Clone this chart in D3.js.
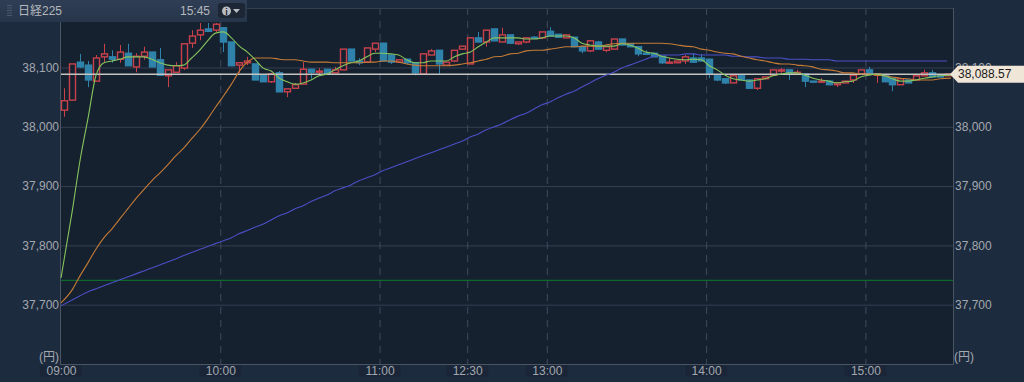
<!DOCTYPE html>
<html lang="ja">
<head>
  <meta charset="utf-8" />
  <title>日経225</title>
  <script src="https://cdn.jsdelivr.net/npm/d3@7/dist/d3.min.js"></script>
  <style>
    html, body { margin: 0; padding: 0; background: #1d2b3f; overflow: hidden; }
    svg { display: block; font-family: "Liberation Sans", "Noto Sans CJK JP", sans-serif; }
    .axis text { fill: #a3a8ae; font-size: 12px; }
    .axis path { display: none; }
    .grid line { stroke: #343f50; }
    .tgrid line { stroke: #3f4a5a; stroke-dasharray: 7 6; }
  </style>
</head>
<body>
<script>
// 3 minute candles, 09:00 to 15:30 (lunch removed)
var opens = [
  38028,38045,38109,38104,38077,38118,38118,38114,38124,38101,
  38119,38126,38113,38086,38092,38099,38141,38155,38165,38163,
  38167,38143,38104,38108,38106,38087,38076,38091,38059,38065,
  38072,38097,38092,38097,38091,38096,38131,38111,38109,38131,
  38141,38121,38109,38114,38108,38089,38121,38129,38104,38111,
  38131,38106,38150,38143,38165,38143,38155,38140,38143,38151,
  38150,38161,38156,38150,38151,38135,38128,38143,38129,38131,
  38148,38140,38135,38124,38124,38119,38108,38108,38111,38116,
  38116,38114,38086,38081,38074,38086,38079,38065,38081,38087,
  38094,38096,38089,38089,38077,38076,38077,38071,38074,38079,
  38089,38096,38087,38087,38082,38071,38079,38079,38086,38091,38087,38086];
var closes = [
  38044,38106,38101,38079,38116,38123,38114,38126,38103,38119,
  38126,38101,38087,38096,38103,38140,38153,38163,38161,38173,
  38143,38103,38108,38111,38079,38076,38089,38059,38064,38071,
  38097,38092,38094,38089,38096,38131,38111,38108,38133,38141,
  38111,38109,38113,38108,38091,38123,38128,38106,38109,38129,
  38136,38150,38143,38163,38145,38155,38141,38143,38150,38150,
  38160,38153,38151,38155,38135,38128,38145,38131,38135,38148,
  38138,38135,38123,38123,38118,38108,38109,38111,38118,38109,
  38111,38089,38079,38074,38086,38079,38065,38081,38084,38096,
  38096,38089,38092,38077,38076,38077,38071,38074,38077,38087,
  38096,38089,38089,38076,38071,38081,38074,38086,38091,38084,38084,38089];
var highs = [
  38065,38106,38123,38111,38121,38140,38129,38138,38140,38124,
  38135,38126,38133,38096,38109,38140,38163,38175,38175,38175,
  38167,38143,38108,38118,38106,38087,38091,38094,38064,38074,
  38109,38097,38099,38097,38101,38131,38131,38116,38133,38141,
  38141,38121,38114,38114,38108,38123,38131,38129,38109,38129,
  38136,38150,38160,38163,38165,38167,38155,38143,38151,38153,
  38160,38168,38156,38155,38151,38135,38146,38145,38135,38148,
  38148,38140,38135,38129,38124,38119,38116,38111,38121,38124,
  38123,38114,38086,38081,38086,38086,38079,38081,38084,38096,
  38099,38096,38096,38089,38077,38082,38077,38074,38077,38087,
  38096,38101,38089,38087,38082,38081,38079,38086,38096,38096,38087,38089];
var lows = [
  38017,38045,38099,38067,38077,38109,38108,38108,38103,38092,
  38113,38101,38087,38067,38092,38096,38133,38146,38161,38160,
  38126,38103,38091,38104,38079,38076,38074,38059,38050,38065,
  38072,38081,38087,38089,38091,38096,38111,38104,38108,38126,
  38111,38106,38108,38106,38087,38089,38121,38089,38104,38109,
  38131,38106,38143,38135,38145,38143,38141,38138,38141,38150,
  38148,38153,38151,38150,38135,38124,38126,38131,38126,38131,
  38138,38135,38119,38121,38118,38106,38108,38108,38106,38108,
  38111,38082,38077,38072,38074,38079,38065,38062,38081,38087,
  38091,38079,38089,38067,38076,38074,38071,38067,38074,38074,
  38089,38089,38074,38076,38060,38071,38074,38079,38086,38084,38084,38086];

var maShort = [
  37745,37857,37944,38015,38087,38108,38111,38114,38118,38118,
  38118,38114,38108,38104,38103,38104,38116,38129,38145,38158,
  38160,38150,38136,38126,38113,38099,38094,38082,38076,38072,
  38074,38079,38086,38089,38096,38103,38108,38111,38118,38124,
  38124,38123,38121,38113,38108,38108,38111,38111,38111,38118,
  38123,38126,38135,38143,38150,38150,38150,38150,38148,38148,
  38150,38153,38153,38153,38150,38141,38138,38136,38136,38136,
  38140,38138,38133,38126,38124,38119,38116,38114,38113,38114,
  38113,38103,38096,38087,38081,38079,38077,38079,38081,38086,
  38089,38091,38091,38087,38082,38079,38077,38074,38076,38077,
  38084,38087,38089,38086,38081,38077,38077,38079,38082,38084,38086,38087];
var maMid = [
  37703,37725,37749,37771,37794,37813,37828,37845,37862,37879,
  37894,37909,37922,37936,37951,37964,37980,37995,38013,38033,
  38052,38072,38094,38109,38116,38116,38116,38114,38113,38113,
  38111,38109,38109,38109,38108,38108,38108,38108,38109,38109,
  38111,38111,38109,38106,38104,38103,38103,38103,38103,38104,
  38106,38108,38111,38114,38118,38119,38123,38124,38128,38129,
  38129,38131,38133,38135,38135,38136,38136,38136,38138,38140,
  38141,38141,38141,38141,38141,38141,38140,38138,38136,38135,
  38131,38129,38126,38124,38123,38119,38116,38113,38111,38108,
  38106,38106,38104,38103,38101,38097,38096,38094,38091,38091,
  38089,38089,38087,38086,38084,38082,38081,38079,38079,38079,38081,38082];
var maLong = [
  37698,37708,37715,37722,37727,37732,37737,37742,37747,37752,
  37757,37762,37767,37772,37777,37783,37788,37793,37798,37803,
  37808,37813,37820,37825,37831,37836,37843,37850,37855,37862,
  37867,37874,37880,37885,37892,37897,37902,37909,37914,37919,
  37926,37931,37936,37941,37946,37951,37956,37961,37966,37971,
  37976,37983,37988,37995,38000,38005,38012,38018,38023,38030,
  38037,38042,38049,38055,38060,38067,38074,38081,38087,38092,
  38099,38104,38109,38114,38119,38121,38121,38121,38123,38123,
  38121,38121,38121,38121,38119,38119,38118,38118,38116,38116,
  38116,38114,38114,38114,38113,38113,38113,38111,38111,38111,
  38111,38111,38111,38111,38111,38111,38111,38111,38111,38111,38111,38111];

var prevClose = 37741;
var lastPrice = 38088.57;
var yTicks = [37700, 37800, 37900, 38000, 38100];
var timeSlots = [0, 20, 40, 51, 61, 81, 101];
var timeLabels = ["09:00", "10:00", "11:00", "12:30", "13:00", "14:00", "15:00"];

var w = 1024, h = 382;
var pad = {left: 61, right: 71, top: 8, bottom: 18};
var indexes = d3.range(closes.length);

var x = d3.scaleLinear().domain([0, closes.length]).range([pad.left, w - pad.right]);
var y = d3.scaleLinear().domain([37700, 38100]).range([304.7, 67.5]);
var mid = function(i) { return Math.round(x(i + 0.4)) + 0.5; };

var svg = d3.select("body").append("svg").attr("width", w).attr("height", h);

svg.append("rect").attr("x", pad.left).attr("y", pad.top)
   .attr("width", w - pad.left - pad.right).attr("height", h - pad.top - pad.bottom)
   .attr("fill", "#162130");

// grid
svg.append("g").attr("class", "grid")
   .attr("transform", "translate(" + pad.left + ",0)")
   .call(d3.axisRight(y).tickValues(yTicks).tickSize(w - pad.left - pad.right).tickFormat(""))
   .call(function(g) { g.select(".domain").remove(); });
svg.append("g").attr("class", "tgrid")
   .attr("transform", "translate(0," + pad.top + ")")
   .call(d3.axisBottom(x).tickValues(timeSlots.slice(1)).tickSize(h - pad.top - pad.bottom).tickFormat(""))
   .call(function(g) { g.select(".domain").remove(); });

// frame
var frame = svg.append("g").attr("stroke", "#4a5462").attr("fill", "none");
frame.append("path").attr("d", "M" + (pad.left - 0.5) + "," + pad.top + "V" + (h - pad.bottom + 0.5) + "H" + (w - pad.right + 0.5) + "V" + pad.top);
frame.append("path").attr("d", "M" + pad.left + "," + (pad.top + 0.5) + "H" + (w - pad.right)).attr("stroke", "#343f50");

// candles
var candles = svg.append("g").selectAll("g").data(indexes).enter().append("g")
   .attr("stroke", function(i) { return closes[i] >= opens[i] ? "#c9424b" : "#2f83ab"; });
candles.append("line")
   .attr("x1", mid).attr("x2", mid)
   .attr("y1", function(i) { return y(highs[i]); })
   .attr("y2", function(i) { return y(lows[i]); });
candles.append("rect")
   .attr("x", function(i) { return mid(i) - 3; })
   .attr("width", 6)
   .attr("y", function(i) { return y(Math.max(opens[i], closes[i])); })
   .attr("height", function(i) { return Math.max(1, Math.abs(y(opens[i]) - y(closes[i]))); })
   .attr("stroke-width", 1.4)
   .attr("fill", function(i) { return closes[i] >= opens[i] ? "#162130" : "#2f83ab"; });

// flat lines
svg.append("line").attr("x1", pad.left).attr("x2", w - pad.right)
   .attr("y1", y(prevClose)).attr("y2", y(prevClose))
   .attr("stroke", "#0e6a2c").attr("stroke-width", 1.2);
svg.append("line").attr("x1", pad.left).attr("x2", w - pad.right)
   .attr("y1", y(lastPrice)).attr("y2", y(lastPrice))
   .attr("stroke", "#c4c4c1").attr("stroke-width", 1.4);

// moving averages
function drawMa(values, color, end) {
  var line = d3.line()
    .x(function(d, i) { return i === 0 ? pad.left : (i === values.length - 1 ? end : x(i + 0.4)); })
    .y(function(d) { return y(d); })
    .curve(d3.curveMonotoneX);
  svg.append("path").datum(values)
     .attr("d", line).attr("fill", "none")
     .attr("stroke", color).attr("stroke-width", 1.1);
}
drawMa(maLong, "#4b4fc4", 947);
drawMa(maMid, "#c47b35", 951);
drawMa(maShort, "#86c45c", 951);

// axes
var axes = svg.append("g").attr("class", "axis");
axes.append("g").attr("transform", "translate(" + (pad.left - 2) + ",0)")
    .call(d3.axisLeft(y).tickValues(yTicks).tickSize(0).tickPadding(0).tickFormat(d3.format(",")));
axes.append("g").attr("transform", "translate(" + (w - pad.right + 2) + ",0)")
    .call(d3.axisRight(y).tickValues(yTicks).tickSize(0).tickPadding(0).tickFormat(d3.format(",")));

// time labels sit on faint dark boxes
svg.append("g").selectAll("rect").data(timeSlots).enter().append("rect")
   .attr("x", function(d) { return x(d) - 21; })
   .attr("y", 365.5).attr("width", 42).attr("height", 11)
   .attr("fill", "#1a2638");
axes.raise();
axes.append("g").attr("transform", "translate(0," + (h - pad.bottom + 2) + ")")
    .call(d3.axisBottom(x).tickValues(timeSlots).tickSize(0).tickPadding(0)
      .tickFormat(function(d, i) { return timeLabels[i]; }));

axes.append("text").attr("x", 59).attr("y", 361).attr("text-anchor", "end").text("(円)");
axes.append("text").attr("x", 954).attr("y", 361).text("(円)");

// last price tag
var tagY = y(lastPrice);
svg.append("path")
   .attr("d", "M950," + tagY + "L958," + (tagY - 8.5) + "H1024V" + (tagY + 8.5) + "H958Z")
   .attr("fill", "#efe6d8");
svg.append("text").attr("x", 958).attr("y", tagY + 4).attr("font-size", 12).attr("fill", "#1a1a1a")
   .text(d3.format(",.2f")(lastPrice));

// header bar
var grad = svg.append("defs").append("linearGradient").attr("id", "head").attr("x2", 0).attr("y2", 1);
grad.append("stop").attr("offset", 0).attr("stop-color", "#2f3e55");
grad.append("stop").attr("offset", 1).attr("stop-color", "#27354a");
svg.append("rect").attr("width", 247).attr("height", 22).attr("fill", "url(#head)");
svg.append("text").attr("x", 18).attr("y", 15).attr("font-size", 12).attr("fill", "#b4b8bd").text("日経225");
svg.append("text").attr("x", 180).attr("y", 15).attr("font-size", 12).attr("fill", "#b4b8bd").text("15:45");
svg.selectAll(".dot").data(d3.range(5)).enter().append("rect")
   .attr("x", 7).attr("y", function(d) { return 5 + d * 2.5; })
   .attr("width", 5).attr("height", 1).attr("fill", "#4a586c");
svg.append("rect").attr("x", 218).attr("y", 3).attr("width", 27).attr("height", 15).attr("rx", 3).attr("fill", "#1c2635");
svg.append("circle").attr("cx", 226.5).attr("cy", 11).attr("r", 4.5).attr("fill", "#b9bcc0");
svg.append("text").attr("x", 226.5).attr("y", 14.5).attr("text-anchor", "middle")
   .attr("font-size", 9).attr("font-weight", "bold").attr("fill", "#1c2635").text("i");
svg.append("path").attr("d", "M233,9H240L236.5,13Z").attr("fill", "#b9bcc0");
</script>
</body>
</html>
